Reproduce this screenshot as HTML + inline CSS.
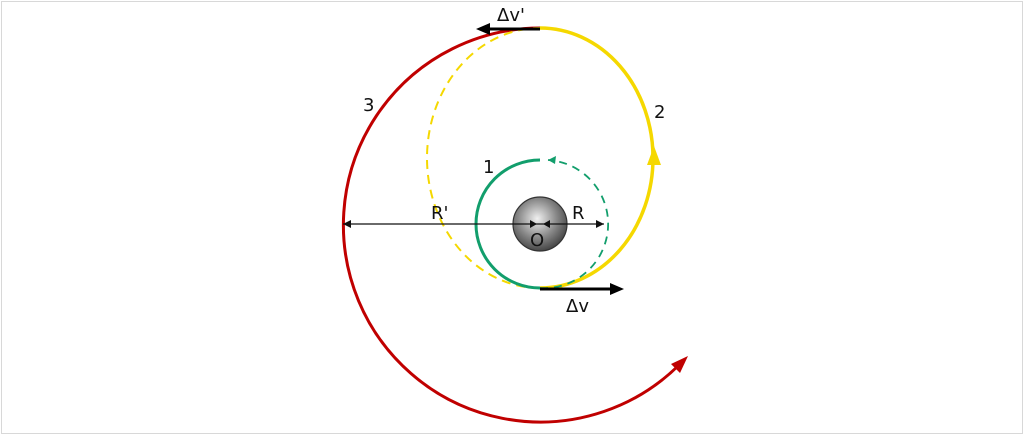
<!DOCTYPE html>
<html><head><style>
html,body{margin:0;padding:0;background:#fff;}
svg{display:block;}
text{font-family:"DejaVu Sans","Liberation Sans",sans-serif;font-size:18px;fill:#111;}
</style></head><body>
<svg width="1024" height="435" viewBox="0 0 1024 435">
<defs>
<radialGradient id="g" cx="0.45" cy="0.4" r="0.65">
<stop offset="0" stop-color="#f0f0f0"/><stop offset="0.55" stop-color="#888"/><stop offset="1" stop-color="#3a3a3a"/>
</radialGradient>
</defs>
<rect x="1.5" y="1.5" width="1021" height="432" fill="#fff" stroke="#d8d8d8" stroke-width="1"/>
<path d="M540,28 A197,197 0 1,0 680,364" fill="none" stroke="#c00000" stroke-width="3"/>
<polygon points="688,356 671,364 680,373" fill="#c00000"/>
<path d="M540,288 A113,130 0 0,1 540,28" fill="none" stroke="#f5d800" stroke-width="2" stroke-dasharray="9,6"/>
<path d="M540,28 A113,130 0 0,1 540,288" fill="none" stroke="#f5d800" stroke-width="3.5"/>
<polygon points="654,146 647,165 661,165" fill="#f5d800"/>
<path d="M540,160 A64,64 0 1,0 540,288" fill="none" stroke="#129e6c" stroke-width="3"/>
<path d="M540,288 A64,64 0 0,0 548,160" fill="none" stroke="#129e6c" stroke-width="1.8" stroke-dasharray="8,6"/>
<polygon points="548,160 556,156 555,164" fill="#129e6c"/>
<circle cx="540" cy="224" r="27" fill="url(#g)" stroke="#333" stroke-width="1.2"/>
<line x1="343" y1="224" x2="604" y2="224" stroke="#111" stroke-width="1.3"/>
<polygon points="343,224 351,220 351,228" fill="#111"/>
<polygon points="537,224 530,220 530,228" fill="#111"/>
<polygon points="543,224 550,220 550,228" fill="#111"/>
<polygon points="604,224 596,220 596,228" fill="#111"/>
<line x1="540" y1="289" x2="612" y2="289" stroke="#000" stroke-width="3"/>
<polygon points="624,289 610,283 610,295" fill="#000"/>
<line x1="540" y1="29" x2="488" y2="29" stroke="#000" stroke-width="3"/>
<polygon points="476,29 490,23 490,35" fill="#000"/>
<text x="530" y="246">O</text>
<text x="572" y="219">R</text>
<text x="431" y="219">R'</text>
<text x="483" y="173">1</text>
<text x="654" y="118">2</text>
<text x="363" y="111">3</text>
<text x="566" y="312">Δv</text>
<text x="497" y="21">Δv'</text>
</svg>
</body></html>
